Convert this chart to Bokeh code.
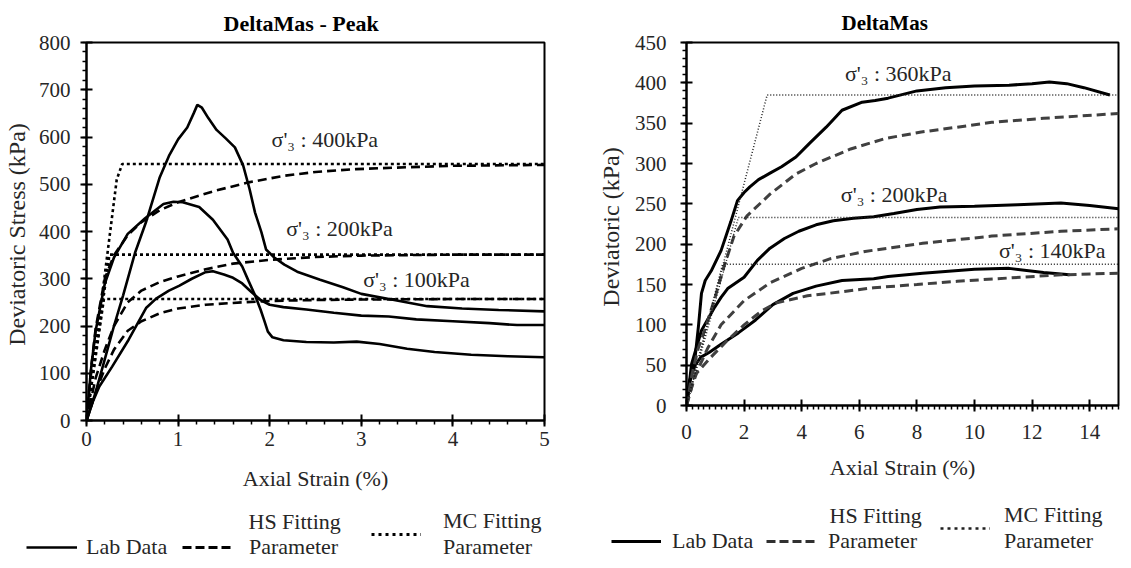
from bokeh.plotting import figure
from bokeh.layouts import row, column
from bokeh.models import Legend, LegendItem, Label, SingleIntervalTicker, Range1d
from bokeh.embed import file_html
from bokeh.resources import INLINE

FONT = "Liberation Serif"
TXT = "#262626"

# ---------------- Left panel: DeltaMas - Peak ----------------
left_title = "DeltaMas - Peak"
left_ylabel = "Deviatoric  Stress (kPa)"
xlabel = "Axial Strain (%)"

lab400_x = [0, 0.1, 0.2, 0.3, 0.4, 0.53, 0.65, 0.8, 0.9, 1.0, 1.1, 1.17, 1.21, 1.26, 1.33, 1.42, 1.52,
            1.62, 1.71, 1.78, 1.84, 1.91, 1.96, 2.05, 2.16, 2.3, 2.55, 2.8, 3.0, 3.33, 3.72, 4.1, 4.5, 5.0]
lab400_y = [0, 60, 130, 200, 265, 355, 420, 515, 560, 595, 620, 650, 668, 662, 640, 615, 597,
            578, 540, 490, 440, 398, 362, 345, 330, 315, 298, 282, 268, 256, 242, 237, 234, 231]

lab200_x = [0, 0.05, 0.1, 0.2, 0.3, 0.45, 0.64, 0.84, 0.95, 1.05, 1.23, 1.38, 1.54, 1.6, 1.7, 1.77,
            1.84, 1.9, 1.94, 1.98, 2.03, 2.15, 2.4, 2.7, 2.95, 3.2, 3.5, 3.8, 4.2, 4.6, 5.0]
lab200_y = [0, 110, 190, 290, 345, 395, 428, 458, 463, 462, 452, 425, 383, 355, 326, 295,
            265, 235, 212, 188, 176, 170, 166, 165, 167, 162, 152, 145, 139, 136, 134]

lab100_x = [0, 0.07, 0.14, 0.28, 0.46, 0.65, 0.76, 0.9, 1.01, 1.15, 1.3, 1.38, 1.5, 1.6, 1.7, 1.8,
            1.9, 2.0, 2.15, 2.4, 2.7, 3.0, 3.3, 3.6, 4.0, 4.4, 4.7, 5.0]
lab100_y = [0, 40, 72, 114, 171, 238, 258, 275, 285, 300, 314, 316, 309, 302, 290, 272,
            255, 245, 240, 235, 228, 222, 220, 214, 210, 206, 202, 202]

hs400_x = [0, 0.05, 0.1, 0.2, 0.3, 0.45, 0.6, 0.8, 1.0, 1.2, 1.4, 1.77, 2.16, 2.5, 2.94, 3.5, 4.0, 5.0]
hs400_y = [0, 110, 195, 300, 350, 392, 420, 445, 462, 474, 486, 504, 518, 526, 532, 536, 539, 541]

hs200_x = [0, 0.1, 0.2, 0.3, 0.45, 0.6, 0.8, 1.0, 1.3, 1.6, 2.0, 2.5, 3.0, 4.0, 5.0]
hs200_y = [0, 90, 150, 200, 250, 275, 293, 305, 320, 332, 340, 346, 349, 351, 351]

hs100_x = [0, 0.1, 0.2, 0.3, 0.45, 0.6, 0.8, 1.0, 1.3, 1.7, 2.0, 2.5, 3.0, 4.0, 5.0]
hs100_y = [0, 60, 110, 150, 190, 210, 227, 237, 245, 250, 253, 255, 256, 257, 257]

mc400_x = [0, 0.33, 0.39, 5.0]
mc400_y = [0, 510, 543, 543]
mc200_x = [0, 0.25, 5.0]
mc200_y = [0, 351, 351]
mc100_x = [0, 0.19, 5.0]
mc100_y = [0, 257, 257]

left_notes = ["σ'₃ : 400kPa", "σ'₃ : 200kPa", "σ'₃ : 100kPa"]

# ---------------- Right panel: DeltaMas ----------------
right_title = "DeltaMas"
right_ylabel = "Deviatoric  (kPa)"

r360_x = [0, 0.15, 0.3, 0.42, 0.52, 0.65, 0.86, 1.2, 1.54, 1.77, 2.0, 2.2, 2.5, 2.9, 3.3, 3.8, 4.27,
          4.85, 5.4, 6.1, 6.55, 7.0, 8.0, 9.0, 10.0, 11.2, 12.0, 12.6, 13.2, 13.8, 14.7]
r360_y = [0, 35, 60, 100, 139, 155, 167, 192, 228, 254, 264, 271, 280, 288, 296, 308, 325,
          345, 366, 376, 378, 381, 390, 394, 396, 397, 399, 401, 399, 394, 385]

r200_x = [0, 0.18, 0.52, 0.98, 1.2, 1.43, 2.0, 2.46, 2.9, 3.4, 3.9, 4.5, 5.1, 5.8, 6.5, 7.2, 8.0,
          8.8, 10.0, 11.5, 13.0, 14.0, 15.0]
r200_y = [0, 52, 93, 122, 134, 145, 159, 180, 195, 207, 216, 224, 229, 232, 234, 238, 243,
          246, 247, 249, 251, 248, 244]

r140_x = [0, 0.1, 0.3, 0.5, 0.8, 1.2, 1.8, 2.4, 3.0, 3.7, 4.5, 5.4, 6.5, 7.0, 8.2, 10.0, 11.2, 12.4, 13.3]
r140_y = [0, 30, 50, 60, 66, 76, 90, 106, 125, 139, 148, 155, 157, 160, 164, 169, 170, 165, 162]

rhs360_x = [0, 0.2, 0.4, 0.65, 1.0, 1.3, 1.65, 2.1, 2.9, 3.8, 4.5, 5.7, 6.9, 8.15, 9.4, 10.6, 12.4, 15.0]
rhs360_y = [0, 40, 70, 95, 135, 172, 210, 235, 262, 287, 300, 318, 331, 339, 345, 351, 356, 362]

rhs200_x = [0, 0.2, 0.4, 0.75, 1.2, 2.0, 2.9, 4.0, 5.0, 6.2, 8.2, 10.6, 13.0, 15.0]
rhs200_y = [0, 25, 45, 72, 100, 130, 152, 170, 182, 191, 201, 210, 216, 219]

rhs140_x = [0, 0.3, 0.85, 1.4, 2.0, 2.6, 3.1, 4.2, 5.4, 6.5, 8.0, 9.4, 11.6, 13.0, 15.0]
rhs140_y = [0, 38, 60, 80, 100, 117, 127, 136, 141, 146, 150, 154, 159, 162, 164]

rmc360_x = [0, 2.8, 15.0]
rmc360_y = [0, 385, 385]
rmc200_x = [0, 1.8, 15.0]
rmc200_y = [0, 233, 233]
rmc140_x = [0, 1.25, 15.0]
rmc140_y = [0, 175, 175]

right_notes = ["σ'₃ : 360kPa", "σ'₃ : 200kPa", "σ'₃ : 140kPa"]

legend_lab = "Lab Data"
legend_hs = ["HS Fitting", "Parameter"]
legend_mc = "MC Fitting\nParameter"


def style_axes(p, xint, xminor, yint, yminor):
    p.xaxis[0].ticker = SingleIntervalTicker(interval=xint, num_minor_ticks=xminor)
    p.yaxis[0].ticker = SingleIntervalTicker(interval=yint, num_minor_ticks=yminor)
    p.xgrid.visible = False
    p.ygrid.visible = False
    p.outline_line_color = "black"
    p.outline_line_width = 2
    p.outline_line_alpha = 1
    for ax in (p.xaxis[0], p.yaxis[0]):
        ax.axis_line_width = 2
        ax.axis_line_color = "black"
        ax.major_tick_line_width = 2
        ax.major_tick_line_color = "black"
        ax.minor_tick_line_width = 1.5
        ax.minor_tick_line_color = "black"
        ax.major_tick_out = 6
        ax.major_tick_in = 6
        ax.minor_tick_out = 4
        ax.minor_tick_in = 0
        ax.major_label_text_font = FONT
        ax.major_label_text_font_size = "21px"
        ax.major_label_text_color = TXT
        ax.axis_label_text_font = FONT
        ax.axis_label_text_font_style = "normal"
        ax.axis_label_text_color = TXT
    p.xaxis[0].axis_label_text_font_size = "22px"
    p.yaxis[0].axis_label_text_font_size = "24px"
    p.title.text_font = FONT
    p.title.text_font_size = "22px"
    p.title.text_font_style = "bold"
    p.title.text_color = "black"
    p.title.align = "left"


def add_item(f, label, xs, ys, kw, lx, ly, standoff, gw, gh):
    # sample line reuses a real series but lies outside this figure's ranges,
    # so only its legend glyph is visible
    r = f.line(xs, ys, **kw)
    leg = Legend(items=[LegendItem(label=label, renderers=[r])], location=(lx, ly),
                 orientation="horizontal", border_line_alpha=0, background_fill_alpha=0,
                 padding=0, margin=0, spacing=0, glyph_width=gw, glyph_height=gh,
                 label_standoff=standoff, label_text_font=FONT, label_text_font_size="22px",
                 label_text_color=TXT, label_text_line_height=1.2)
    f.add_layout(leg, "center")


def legend_fig(width):
    f = figure(width=width, height=60, output_backend="svg", toolbar_location=None,
               x_range=Range1d(-20, -19), y_range=Range1d(-20, -19),
               x_axis_location=None, y_axis_location=None, min_border=0)
    f.outline_line_color = None
    f.xgrid.visible = False
    f.ygrid.visible = False
    return f


# ---------------- Left figure ----------------
p1 = figure(frame_width=458, frame_height=378, output_backend="svg", toolbar_location=None,
            x_range=Range1d(0, 5), y_range=Range1d(0, 800),
            title=left_title, x_axis_label=xlabel, y_axis_label=left_ylabel,
            min_border_left=80, min_border_right=44, min_border_top=42, min_border_bottom=80)
style_axes(p1, 1, 5, 100, 5)
p1.xaxis[0].major_label_standoff = 5
p1.xaxis[0].axis_label_standoff = 17
p1.yaxis[0].major_label_standoff = 10
p1.yaxis[0].axis_label_standoff = 6
p1.title.standoff = 14
p1.title.offset = 137

lab_kw = dict(line_color="black", line_width=2.6)
hs_kw = dict(line_color="black", line_width=2.6, line_dash="9 5")
mc_kw = dict(line_color="black", line_width=2.6, line_dash="3 3")

p1.line(lab400_x, lab400_y, **lab_kw)
p1.line(lab200_x, lab200_y, **lab_kw)
p1.line(lab100_x, lab100_y, **lab_kw)
p1.line(hs400_x, hs400_y, **hs_kw)
p1.line(hs200_x, hs200_y, **hs_kw)
p1.line(hs100_x, hs100_y, **hs_kw)
p1.line(mc400_x, mc400_y, **mc_kw)
p1.line(mc200_x, mc200_y, **mc_kw)
p1.line(mc100_x, mc100_y, **mc_kw)

left_note_pos = [(2.02, 595), (2.18, 406), (3.02, 298)]
for txt, (nx, ny) in zip(left_notes, left_note_pos):
    p1.add_layout(Label(x=nx, y=ny, text=txt, text_font=FONT, text_font_size="22px",
                        text_color=TXT, text_baseline="middle", text_align="left"))

# ---------------- Right figure ----------------
p2 = figure(frame_width=432, frame_height=363, output_backend="svg", toolbar_location=None,
            x_range=Range1d(0, 15), y_range=Range1d(0, 450),
            title=right_title, x_axis_label=xlabel, y_axis_label=right_ylabel,
            min_border_left=98, min_border_right=3, min_border_top=41, min_border_bottom=96)
style_axes(p2, 2, 10, 50, 5)
p2.title.text_font_size = "21px"
p2.xaxis[0].major_label_standoff = 13
p2.xaxis[0].axis_label_standoff = 13
p2.yaxis[0].major_label_standoff = 14
p2.yaxis[0].axis_label_standoff = 8
p2.title.standoff = 15
p2.title.offset = 155

rlab_kw = dict(line_color="black", line_width=3)
rhs_kw = dict(line_color="#404040", line_width=3, line_dash="9 5")
rmc_kw = dict(line_color="#202020", line_width=1.5, line_dash="1 2")

p2.line(r360_x, r360_y, **rlab_kw)
p2.line(r200_x, r200_y, **rlab_kw)
p2.line(r140_x, r140_y, **rlab_kw)
p2.line(rhs360_x, rhs360_y, **rhs_kw)
p2.line(rhs200_x, rhs200_y, **rhs_kw)
p2.line(rhs140_x, rhs140_y, **rhs_kw)
p2.line(rmc360_x, rmc360_y, **rmc_kw)
p2.line(rmc200_x, rmc200_y, **rmc_kw)
p2.line(rmc140_x, rmc140_y, **rmc_kw)

right_note_pos = [(5.5, 412), (5.36, 262), (10.85, 192)]
for txt, (nx, ny) in zip(right_notes, right_note_pos):
    p2.add_layout(Label(x=nx, y=ny, text=txt, text_font=FONT, text_font_size="22px",
                        text_color=TXT, text_baseline="middle", text_align="left"))

# ---------------- Legends (below each panel) ----------------
leg_left = legend_fig(582)
add_item(leg_left, legend_lab, lab400_x, lab400_y, lab_kw, 26, 0, 9, 51, 26)
add_item(leg_left, legend_hs[1], hs400_x, hs400_y, dict(line_color="black", line_width=3, line_dash="9 4"),
         182, 0, 17, 50, 26)
leg_left.add_layout(Label(x=248, y=39, x_units="screen", y_units="screen", text=legend_hs[0],
                          text_font=FONT, text_font_size="22px", text_color=TXT,
                          text_baseline="middle", text_align="left"))
add_item(leg_left, legend_mc, mc400_x, mc400_y, dict(line_color="black", line_width=3, line_dash="3 4"),
         371, 0, 22, 50, 20)

leg_right = legend_fig(533)
add_item(leg_right, legend_lab, r360_x, r360_y, rlab_kw, 29, 6, 11, 50, 26)
add_item(leg_right, legend_hs[1], rhs360_x, rhs360_y, dict(line_color="#303030", line_width=3, line_dash="9 4"),
         184, 6, 12, 50, 26)
leg_right.add_layout(Label(x=247, y=45, x_units="screen", y_units="screen", text=legend_hs[0],
                           text_font=FONT, text_font_size="22px", text_color=TXT,
                           text_baseline="middle", text_align="left"))
add_item(leg_right, legend_mc, rmc360_x, rmc360_y, dict(line_color="#202020", line_width=2.5, line_dash="3 4"),
         358, 6, 14, 50, 20)

layout = column(row(p1, p2, spacing=0), row(leg_left, leg_right, spacing=0), spacing=0)
open("out.html", "w").write(file_html(layout, INLINE))
